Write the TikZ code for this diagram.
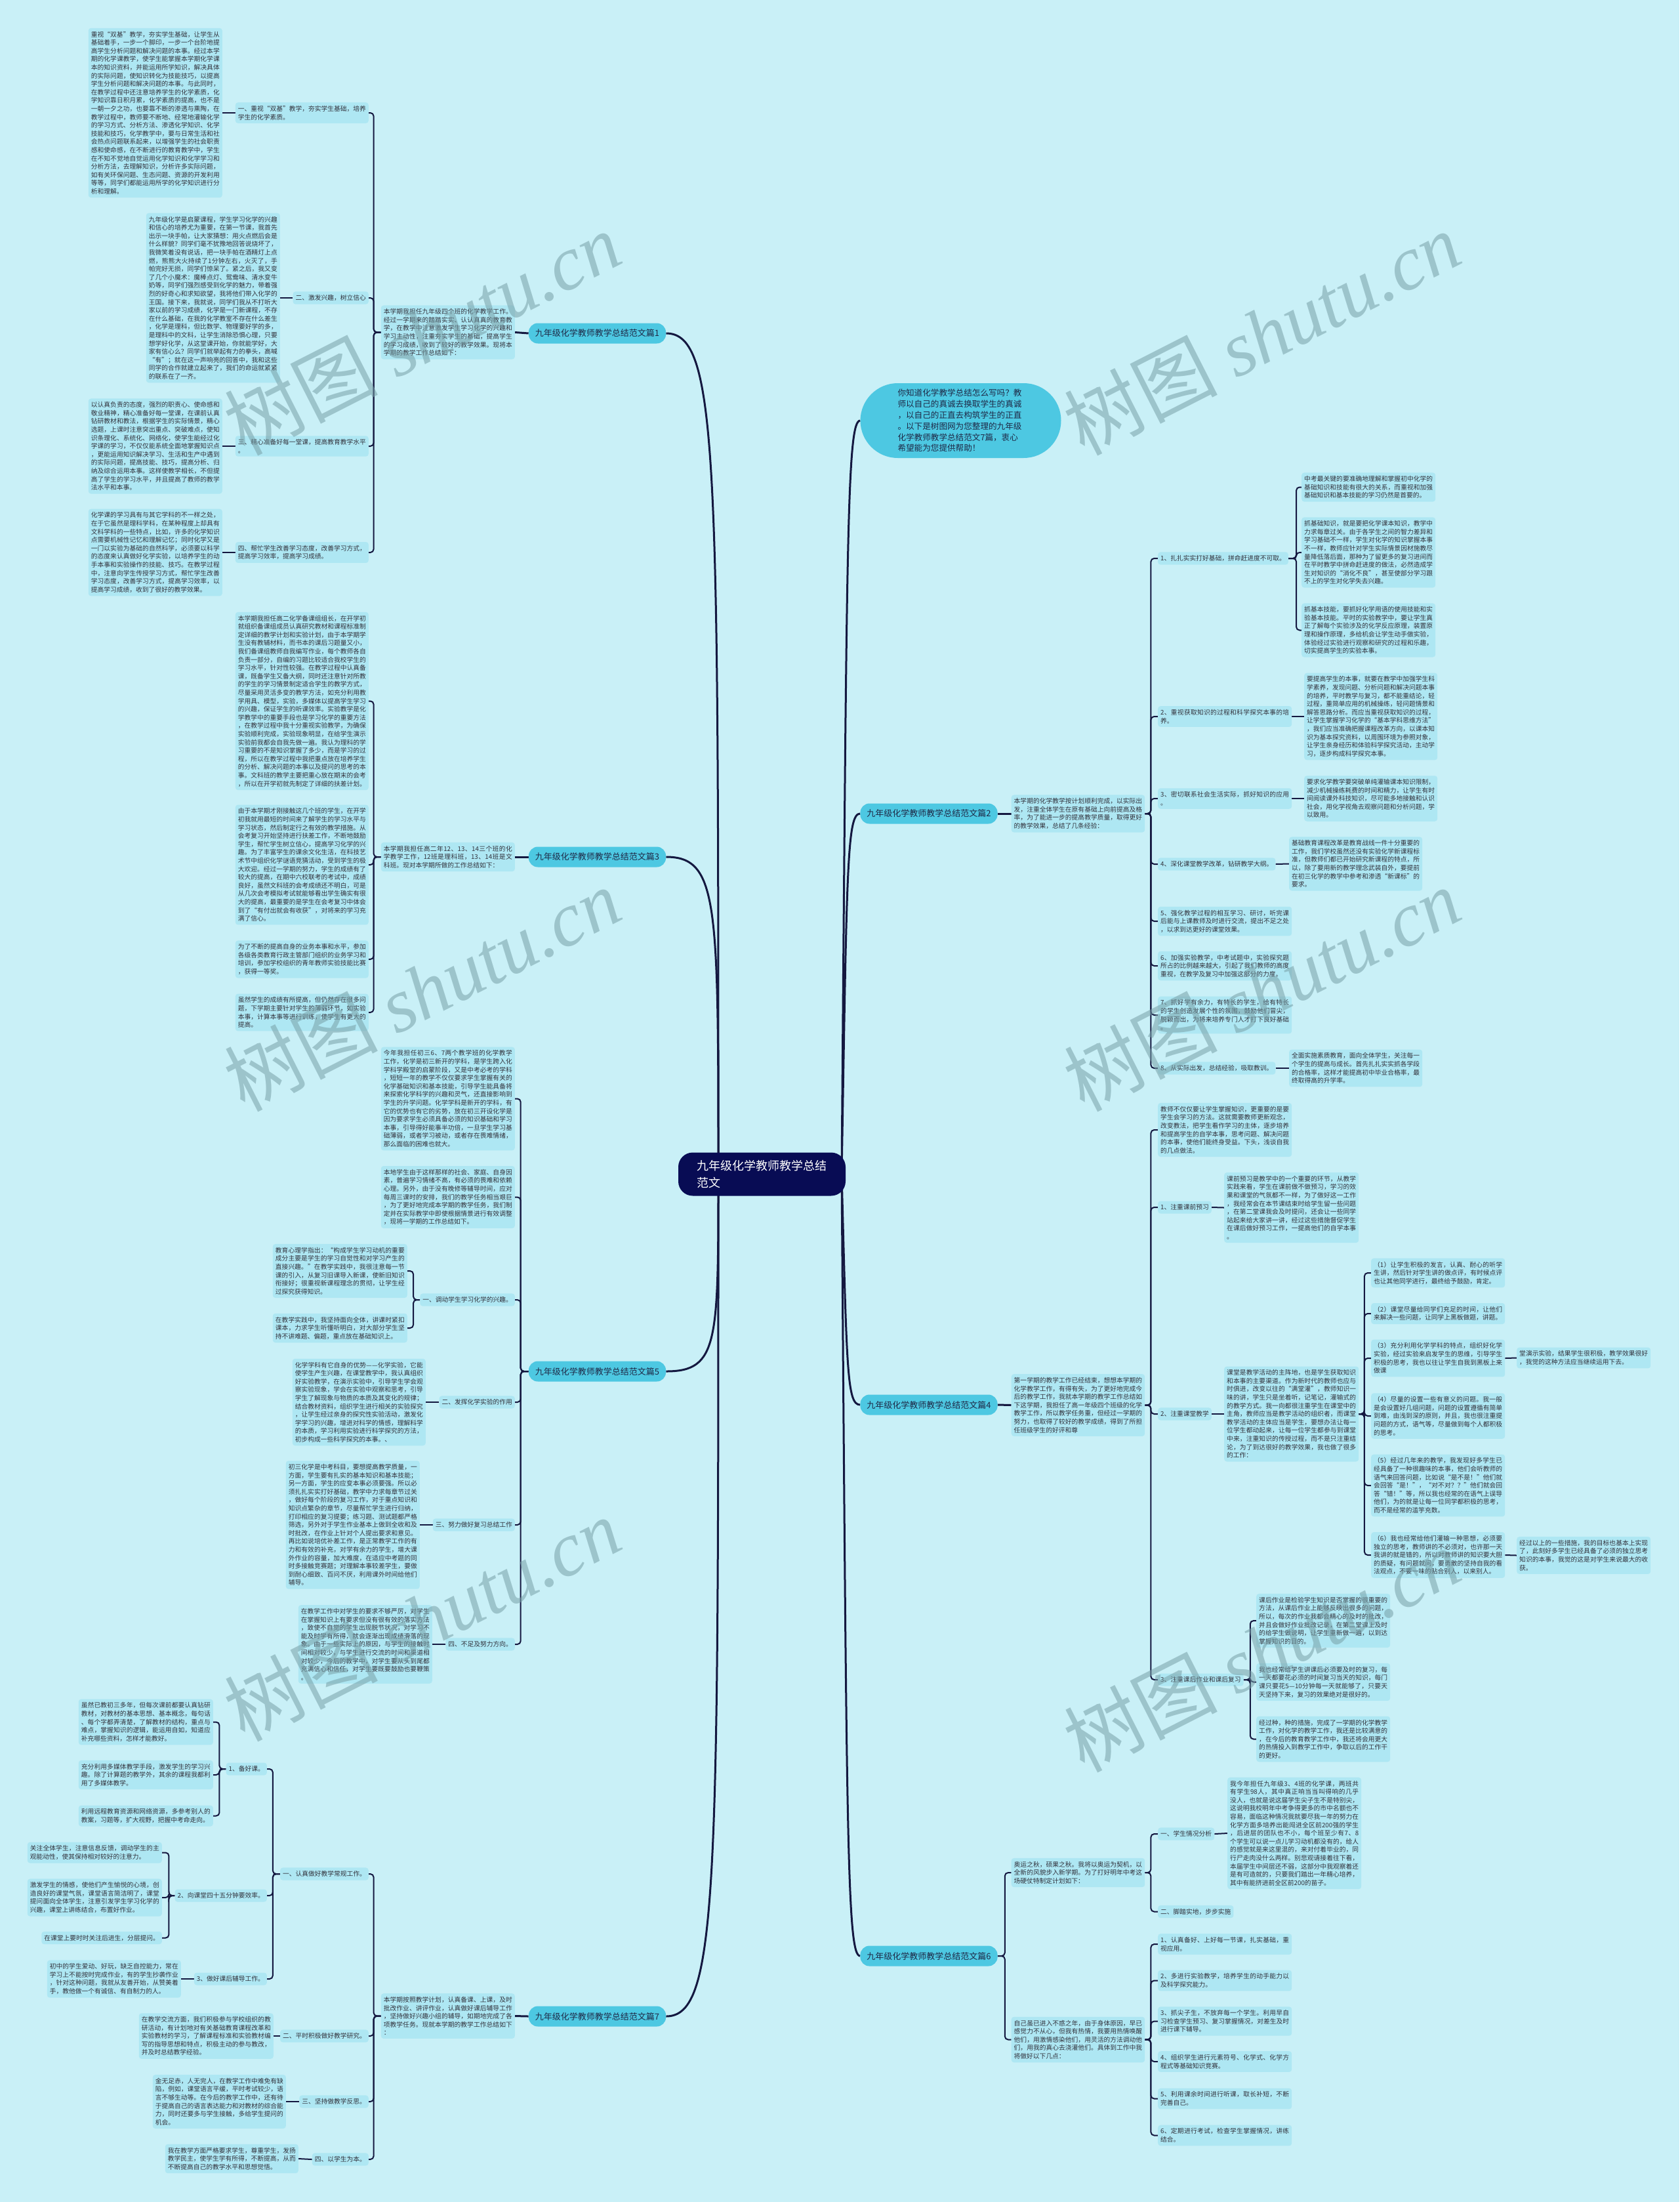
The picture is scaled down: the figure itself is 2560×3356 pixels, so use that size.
\documentclass[tikz,border=0pt]{standalone}
\usepackage{fontspec}
\setmainfont{Noto Sans CJK SC}
\newfontfamily\wmlat{Liberation Serif}
% character-level line breaking (break between any CJK characters)
\newcount\cjkc
\cjkc="4E00
\loop \XeTeXcharclass\cjkc=1 \advance\cjkc by 1 \ifnum\cjkc<"A000 \repeat
\XeTeXcharclass"2014=1
\XeTeXcharclass"FF08=2 \XeTeXcharclass"201C=2 \XeTeXcharclass"2018=2
\XeTeXcharclass"FF0C=3 \XeTeXcharclass"3002=3 \XeTeXcharclass"3001=3
\XeTeXcharclass"FF1B=3 \XeTeXcharclass"FF1A=3 \XeTeXcharclass"FF1F=3
\XeTeXcharclass"FF01=3 \XeTeXcharclass"FF09=3 \XeTeXcharclass"201D=3
\XeTeXcharclass"2019=3
\def\cjkg{\hskip0pt plus 0.3pt\relax}
\XeTeXinterchartoks 1 1 = {\cjkg}
\XeTeXinterchartoks 1 2 = {\cjkg}
\XeTeXinterchartoks 1 3 = {\cjkg}
\XeTeXinterchartoks 3 1 = {\cjkg}
\XeTeXinterchartoks 3 2 = {\cjkg}
\XeTeXinterchartoks 3 3 = {\cjkg}
\XeTeXinterchartoks 0 1 = {\cjkg}
\XeTeXinterchartoks 1 0 = {\cjkg}
\XeTeXinterchartoks 3 0 = {\cjkg}
\XeTeXinterchartoks 0 3 = {\cjkg}
\XeTeXinterchartoks 0 2 = {\cjkg}
\XeTeXinterchartokenstate=1
\definecolor{bgc}{RGB}{201,240,247}
\definecolor{leafc}{RGB}{174,231,243}
\definecolor{brc}{RGB}{77,200,226}
\definecolor{cenc}{RGB}{8,12,84}
\definecolor{linec}{RGB}{20,24,64}
\definecolor{txt}{RGB}{50,50,60}
\definecolor{brtxt}{RGB}{30,40,70}
\definecolor{wmc}{RGB}{120,160,168}
\pgfdeclarelayer{bg}
\pgfsetlayers{bg,main}
\tikzset{
 leaf/.style={rectangle, rounded corners=4pt, fill=leafc, inner xsep=4pt, inner ysep=5pt, align=justify, text=txt, font=\fontsize{9.75pt}{12.6pt}\selectfont},
 brn/.style={rectangle, rounded corners=14pt, fill=brc, minimum height=31pt, inner xsep=10pt, text=brtxt, font=\fontsize{13pt}{15pt}\selectfont},
 conn/.style={draw=linec, line width=2pt, rounded corners=5pt},
 mainc/.style={draw=linec, line width=3pt},
 wm/.style={text=wmc, text opacity=0.55, font=\fontsize{117pt}{117pt}\selectfont, inner sep=0pt},
}
\begin{document}
\begin{tikzpicture}[x=1pt,y=-1pt]
\useasboundingbox (0,0) rectangle (2560,3356);
\begin{pgfonlayer}{bg}\fill[bgc] (0,0) rectangle (2560,3356);\end{pgfonlayer}

% center
\node[rectangle, rounded corners=22pt, fill=cenc, text=white, align=left, minimum width=255pt, minimum height=66pt, font=\fontsize{18pt}{26pt}\selectfont] (C) at (1161.5,1789.5) {九年级化学教师教学总结\\范文};

% intro bubble
\node[rectangle, rounded corners=57pt, fill=brc, text=brtxt, align=left, text width=192pt, inner xsep=57pt, inner ysep=6pt, minimum height=114pt, font=\fontsize{12.6pt}{16.8pt}\selectfont] (Q) at (1464.5,641) {你知道化学教学总结怎么写吗？教\\师以自己的真诚去换取学生的真诚\\，以自己的正直去构筑学生的正直\\。以下是树图网为您整理的九年级\\化学教师教学总结范文7篇，衷心\\希望能为您提供帮助！};

%================ 篇1
\node[brn] (B1) at (910.5,508) {九年级化学教师教学总结范文篇1};
\node[leaf, text width=196pt, anchor=east] (I1) at (785,506.5) {本学期我担任九年级四个班的化学教学工作。经过一学期来的踏踏实实、认认真真的教育教学，在教学中注意激发学生学习化学的兴趣和学习主动性，注重夯实学生的基础，提高学生的学习成绩，收到了较好的教学效果。现将本学期的教学工作总结如下：};
\node[leaf, text width=195pt, anchor=east] (S1a) at (562,172) {一、重视“双基”教学，夯实学生基础，培养学生的化学素质。};
\node[leaf, anchor=east] (S1b) at (562,454) {二、激发兴趣，树立信心};
\node[leaf, text width=195pt, anchor=east] (S1c) at (562,680) {三、精心准备好每一堂课，提高教育教学水平。};
\node[leaf, text width=195pt, anchor=east] (S1d) at (562,842) {四、帮忙学生改善学习态度，改善学习方式，提高学习效率，提高学习成绩。};
\node[leaf, text width=196pt, anchor=east] (L1a) at (339,172) {重视“双基”教学，夯实学生基础，让学生从基础着手，一步一个脚印，一步一个台阶地提高学生分析问题和解决问题的本事。经过本学期的化学课教学，使学生能掌握本学期化学课本的知识资料，并能运用所学知识，解决具体的实际问题，使知识转化为技能技巧，以提高学生分析问题和解决问题的本事。与此同时，在教学过程中还注意培养学生的化学素质，化学知识靠日积月累，化学素质的提高，也不是一朝一夕之功，也要靠不断的渗透与熏陶，在教学过程中，教师要不断地、经常地灌输化学的学习方式、分析方法、渗透化学知识、化学技能和技巧，化学教学中，要与日常生活和社会热点问题联系起来，以增强学生的社会职责感和使命感，在不断进行的教育教学中，学生在不知不觉地自觉运用化学知识和化学学习和分析方法，去理解知识，分析许多实际问题，如有关环保问题、生态问题、资源的开发利用等等，同学们都能运用所学的化学知识进行分析和理解。};
\node[leaf, text width=196pt, anchor=east] (L1b) at (427,454) {九年级化学是启蒙课程，学生学习化学的兴趣和信心的培养尤为重要，在第一节课，我首先出示一块手帕，让大家猜想：用火点燃后会是什么样貌？同学们毫不犹豫地回答说烧坏了，我微笑着没有说话，把一块手帕在酒精灯上点燃，熊熊大火持续了1分钟左右，火灭了，手帕完好无损，同学们惊呆了。紧之后，我又变了几个小魔术：魔棒点灯、鸳鸯味、清水变牛奶等，同学们强烈感受到化学的魅力，带着强烈的好奇心和求知欲望，我将他们带入化学的王国。接下来，我就说，同学们我从不打听大家以前的学习成绩，化学是一门新课程，不存在什么基础，在我的化学教室不存在什么差生，化学是理科，但比数学、物理要好学的多，是理科中的文科，让学生消除恐惧心理，只要想学好化学，从这堂课开始，你就能学好，大家有信心么？同学们就举起有力的拳头，高喊“有”；就在这一声响亮的回答中，我和这些同学的合作就建立起来了，我们的命运就紧紧的联系在了一齐。};
\node[leaf, text width=196pt, anchor=east] (L1c) at (339,680) {以认真负责的态度，强烈的职责心、使命感和敬业精神，精心准备好每一堂课，在课前认真钻研教材和教法，根据学生的实际情景，精心选题，上课时注意突出重点、突破难点，使知识条理化、系统化、网络化，使学生能经过化学课的学习，不仅仅能系统全面地掌握知识点，更能运用知识解决学习、生活和生产中遇到的实际问题，提高技能、技巧，提高分析、归纳及综合运用本事。这样使教学相长，不但提高了学生的学习水平，并且提高了教师的教学法水平和本事。};
\node[leaf, text width=196pt, anchor=east] (L1d) at (339,842) {化学课的学习具有与其它学科的不一样之处，在于它虽然是理科学科，在某种程度上却具有文科学科的一些特点，比如，许多的化学知识点需要机械性记忆和理解记忆；同时化学又是一门以实验为基础的自然科学，必须要以科学的态度来认真做好化学实验，以培养学生的动手本事和实验操作的技能、技巧。在教学过程中，注意向学生传授学习方式，帮忙学生改善学习态度，改善学习方式，提高学习效率，以提高学习成绩，收到了很好的教学效果。};

%================ 篇3
\node[brn] (B3) at (910.5,1306) {九年级化学教师教学总结范文篇3};
\node[leaf, text width=196pt, anchor=east] (I3) at (785,1306) {本学期我担任高二年12、13、14三个班的化学教学工作，12班是理科班，13、14班是文科班。现对本学期所做的工作总结如下：};
\node[leaf, text width=195pt, anchor=east] (L3a) at (562,1068.5) {本学期我担任高二化学备课组组长，在开学初就组织备课组成员认真研究教材和课程标准制定详细的教学计划和实验计划，由于本学期学生没有教辅材料，而书本的课后习题量又小，我们备课组教师自我编写作业，每个教师各自负责一部分，自编的习题比较适合我校学生的学习水平，针对性较强。在教学过程中认真备课，既备学生又备大纲，同时还注意针对所教的学生的学习情景制定适合学生的教学方式，尽量采用灵活多变的教学方法，如充分利用教学用具、模型，实验，多媒体以提高学生学习的兴趣，保证学生的听课效率。实验教学是化学教学中的重要手段也是学习化学的重要方法，在教学过程中我十分重视实验教学，为确保实验顺利完成，实验现象明显，在给学生演示实验前我都会自我先做一遍。我认为理科的学习重要的不是知识掌握了多少，而是学习的过程，所以在教学过程中我把重点放在培养学生的分析、解决问题的本事以及提问的思考的本事。文科班的教学主要把重心放在期末的会考，所以在开学初就先制定了详细的扶差计划。};
\node[leaf, text width=195pt, anchor=east] (L3b) at (562,1318) {由于本学期才刚接触这几个班的学生，在开学初我就用最短的时间来了解学生的学习水平与学习状态，然后制定行之有效的教学措施。从会考复习开始坚持进行扶差工作，不断地鼓励学生，帮忙学生树立信心，提高学习化学的兴趣。为了丰富学生的课余文化生活，在科技艺术节中组织化学谜语竞猜活动，受到学生的极大欢迎。经过一学期的努力，学生的成绩有了较大的提高，在期中六校联考的考试中，成绩良好，虽然文科班的会考成绩还不明白，可是从几次会考模拟考试就能够看出学生确实有很大的提高，最重要的是学生在会考复习中体会到了“有付出就会有收获”，对将来的学习充满了信心。};
\node[leaf, text width=195pt, anchor=east] (L3c) at (562,1462) {为了不断的提高自身的业务本事和水平，参加各级各类教育行政主管部门组织的业务学习和培训，参加学校组织的青年教师实验技能比赛，获得一等奖。};
\node[leaf, text width=195pt, anchor=east] (L3d) at (562,1543) {虽然学生的成绩有所提高，但仍然存在很多问题，下学期主要针对学生的薄弱环节，如实验本事，计算本事等进行训练，使学生有更大的提高。};

%================ 篇5
\node[brn] (B5) at (910.5,2090) {九年级化学教师教学总结范文篇5};
\node[leaf, text width=196pt, anchor=east] (T5a) at (785,1674.5) {今年我担任初三6、7两个教学班的化学教学工作，化学是初三新开的学科，是学生跨入化学科学殿堂的启蒙阶段，又是中考必考的学科，短短一年的教学不仅仅要求学生掌握有关的化学基础知识和基本技能，引导学生能具备将来探索化学科学的兴趣和灵气，还直接影响到学生的升学问题。化学学科是新开的学科，有它的优势也有它的劣势，放在初三开设化学是因为要求学生必须具备必须的知识基础和学习本事，引导得好能事半功倍，一旦学生学习基础薄弱，或者学习被动，或者存在畏难情绪，那么面临的困难也就大。};
\node[leaf, text width=196pt, anchor=east] (T5b) at (785,1824.5) {本地学生由于这样那样的社会、家庭、自身因素，普遍学习情绪不高，有必须的畏难和依赖心理。另外，由于没有晚修等辅导时间，应对每周三课时的安排，我们的教学任务相当艰巨，为了更好地完成本学期的教学任务，我们制定并在实际教学中即使根据情景进行有效调整，现将一学期的工作总结如下。};
\node[leaf, anchor=east] (S5a) at (785,1981) {一、调动学生学习化学的兴趣。};
\node[leaf, anchor=east] (S5b) at (785,2137) {二、发挥化学实验的作用};
\node[leaf, anchor=east] (S5c) at (785,2324) {三、努力做好复习总结工作};
\node[leaf, anchor=east] (S5d) at (785,2506) {四、不足及努力方向。};
\node[leaf, text width=197pt, anchor=east] (L5a1) at (621,1937) {教育心理学指出：“构成学生学习动机的重要成分主要是学生的学习自觉性和对学习产生的直接兴趣。”在教学实践中，我很注意每一节课的引入，从复习旧课导入新课，使新旧知识衔接好；很重视新课程理念的贯彻，让学生经过探究获得知识。};
\node[leaf, text width=197pt, anchor=east] (L5a2) at (621,2024) {在教学实践中，我坚持面向全体，讲课时紧扣课本，力求学生听懂听明白，对大部分学生坚持不讲难题、偏题，重点放在基础知识上。};
\node[leaf, text width=195pt, anchor=east] (L5b) at (649,2137) {化学学科有它自身的优势——化学实验，它能使学生产生兴趣，在课堂教学中，我认真组织好实验教学，在演示实验中，引导学生学会观察实验现象，学会在实验中观察和思考，引导学生了解现象与物质的本质及其变化的规律；结合教材资料，组织学生进行相关的实验探究，让学生经过亲身的探究性实验活动，激发化学学习的兴趣，增进对科学的情感，理解科学的本质，学习利用实验进行科学探究的方法，初步构成一些科学探究的本事。、};
\node[leaf, text width=196pt, anchor=east] (L5c) at (640,2324) {初三化学是中考科目，要想提高教学质量，一方面，学生要有扎实的基本知识和基本技能；另一方面，学生的应变本事必须要强。所以必须扎扎实实打好基础，教学中力求每章节过关，做好每个阶段的复习工作，对于重点知识和知识点繁杂的章节，尽量帮忙学生进行归纳，打印相应的复习提要；练习题、测试题都严格筛选，另外对于学生作业基本上做到全收和及时批改，在作业上针对个人提出要求和意见。再比如说培优补差工作，是正常教学工作的有力和有效的补充，对学有余力的学生，增大课外作业的容量，加大难度，在适应中考题的同时多接触竞赛题；对理解本事较差学生，要做到耐心细致、百问不厌，利用课外时间给他们辅导。};
\node[leaf, text width=196pt, anchor=east] (L5d) at (659,2506) {在教学工作中对学生的要求不够严厉，对学生在掌握知识上有要求但没有很有效的落实方法，致使不自觉的学生出现脱节状况，对学习不能及时学有所得，就会逐渐出现成绩滑落的现象。由于一些实际上的原因，与学生的接触时间相对较少，与学生进行交流的时间和渠道相对较少，今后的教学中，对学生要从头到尾都充满信心和信任，对学生要既要鼓励也要鞭策。};

%================ 篇7
\node[brn] (B7) at (910.5,3073) {九年级化学教师教学总结范文篇7};
\node[leaf, text width=196pt, anchor=east] (I7) at (785,3072.5) {本学期按照教学计划，认真备课、上课，及时批改作业、讲评作业，认真做好课后辅导工作，坚持做好兴趣小组的辅导，如期地完成了各项教学任务。现就本学期的教学工作总结如下：};
\node[leaf, anchor=east] (S7a) at (562,2856) {一、认真做好教学常规工作。};
\node[leaf, anchor=east] (S7b) at (562,3103) {二、平时积极做好教学研究。};
\node[leaf, anchor=east] (S7c) at (562,3203) {三、坚持做教学反思。};
\node[leaf, anchor=east] (S7d) at (562,3291) {四、以学生为本。};
\node[leaf, anchor=east] (S7a1) at (407,2696) {1、备好课。};
\node[leaf, anchor=east] (S7a2) at (407,2889) {2、向课堂四十五分钟要效率。};
\node[leaf, anchor=east] (S7a3) at (407,3016) {3、做好课后辅导工作。};
\node[leaf, text width=197pt, anchor=east] (L7a) at (325,2624.5) {虽然已教初三多年，但每次课前都要认真钻研教材，对教材的基本思想、基本概念，每句话、每个字都弄清楚，了解教材的结构，重点与难点，掌握知识的逻辑，能运用自如，知道应补充哪些资料，怎样才能教好。};
\node[leaf, text width=197pt, anchor=east] (L7b) at (325,2705) {充分利用多媒体教学手段，激发学生的学习兴趣。除了计算题的教学外，其余的课程我都利用了多媒体教学。};
\node[leaf, text width=197pt, anchor=east] (L7c) at (325,2767.5) {利用远程教育资源和网络资源，多参考别人的教案，习题等，扩大视野，把握中考命走向。};
\node[leaf, text width=197pt, anchor=east] (L7d) at (247,2823.5) {关注全体学生，注意信息反馈，调动学生的主观能动性，使其保持相对较好的注意力。};
\node[leaf, text width=197pt, anchor=east] (L7e) at (247,2892) {激发学生的情感，使他们产生愉悦的心境，创造良好的课堂气氛，课堂语言简洁明了，课堂提问面向全体学生，注意引发学生学习化学的兴趣，课堂上讲练结合，布置好作业。};
\node[leaf, anchor=east] (L7f) at (247,2953.5) {在课堂上要时时关注后进生，分层提问。};
\node[leaf, text width=196pt, anchor=east] (L7g) at (276,3016) {初中的学生爱动、好玩，缺乏自控能力，常在学习上不能按时完成作业，有的学生抄袭作业，针对这种问题，我就从友善开始，从赞美着手，教他做一个有诚信、有自制力的人。};
\node[leaf, text width=197pt, anchor=east] (L7h) at (417,3103) {在教学交流方面，我们积极参与学校组织的教研活动，有计划地对有关基础教育课程改革和实验教材的学习，了解课程标准和实验教材编写的指导思想和特点，积极主动的参与教改，并及时总结教学经验。};
\node[leaf, text width=195pt, anchor=east] (L7i) at (436,3203) {金无足赤，人无完人，在教学工作中难免有缺陷，例如，课堂语言平缓，平时考试较少，语言不够生动等。在今后的教学工作中，还有待于提高自己的语言表达能力和对教材的综合能力，同时还要多与学生接触，多给学生提问的机会。};
\node[leaf, text width=195pt, anchor=east] (L7j) at (455,3290) {我在教学方面严格要求学生，尊重学生，发扬教学民主，使学生学有所得，不断提高，从而不断提高自己的教学水平和思想觉悟。};

%================ 篇2
\node[brn] (B2) at (1416,1240) {九年级化学教师教学总结范文篇2};
\node[leaf, text width=195.5pt, anchor=west] (I2) at (1541.5,1240) {本学期的化学教学按计划顺利完成，以实际出发，注重全体学生在原有基础上向前提高及格率，为了能进一步的提高教学质量，取得更好的教学效果，总结了几条经验：};
\node[leaf, anchor=west] (S21) at (1765,851) {1、扎扎实实打好基础，拼命赶进度不可取。};
\node[leaf, text width=196pt, anchor=west] (S22) at (1765,1092) {2、重视获取知识的过程和科学探究本事的培养。};
\node[leaf, text width=196pt, anchor=west] (S23) at (1765,1217) {3、密切联系社会生活实际，抓好知识的应用。};
\node[leaf, anchor=west] (S24) at (1765,1317) {4、深化课堂教学改革，钻研教学大纲。};
\node[leaf, text width=196pt, anchor=west] (S25) at (1765,1404) {5、强化教学过程的相互学习、研讨，听完课后能与上课教师及时进行交流，提出不足之处，以求到达更好的课堂效果。};
\node[leaf, text width=196pt, anchor=west] (S26) at (1765,1472) {6、加强实验教学，中考试题中，实验探究题所占的比例越来越大，引起了我们教师的高度重视，在教学及复习中加强这部分的力度。};
\node[leaf, text width=196pt, anchor=west] (S27) at (1765,1547) {7、抓好学有余力，有特长的学生，给有特长的学生创造发展个性的氛围，鼓励他们冒尖，脱颖而出，为将来培养专门人才打下良好基础。};
\node[leaf, anchor=west] (S28) at (1765,1628) {8、从实际出发，总结经验，吸取教训。};
\node[leaf, text width=196pt, anchor=west] (L21a) at (1984,742.5) {中考最关键的要准确地理解和掌握初中化学的基础知识和技能有很大的关系，而重视和加强基础知识和基本技能的学习仍然是首要的。};
\node[leaf, text width=196pt, anchor=west] (L21b) at (1984,842) {抓基础知识，就是要把化学课本知识，教学中力求每章过关。由于各学生之间的智力差异和学习基础不一样，学生对化学的知识掌握本事不一样，教师应针对学生实际情景因材施教尽量降低落后面，那种为了留更多的复习进间而在平时教学中拼命赶进度的做法，必然造成学生对知识的“消化不良”，甚至使部分学习跟不上的学生对化学失去兴趣。};
\node[leaf, text width=196pt, anchor=west] (L21c) at (1984,960.5) {抓基本技能，要抓好化学用语的使用技能和实验基本技能。平时的实验教学中，要让学生真正了解每个实验涉及的化学反应原理，装置原理和操作原理，多给机会让学生动手做实验，体验经过实验进行观察和研究的过程和乐趣，切实提高学生的实验本事。};
\node[leaf, text width=195pt, anchor=west] (L22) at (1988,1092) {要提高学生的本事，就要在教学中加强学生科学素养，发现问题、分析问题和解决问题本事的培养，平时教学与复习，都不能重结论，轻过程，重简单应用的机械操练，轻问题情景和解答思路分析。而应当重视获取知识的过程，让学生掌握学习化学的“基本学科思维方法”，我们应当准确把握课程改革方向，以课本知识为基本探究资料，以周围环境为参照对象，让学生亲身经历和体验科学探究活动，主动学习，逐步构成科学探究本事。};
\node[leaf, text width=195pt, anchor=west] (L23) at (1988,1217) {要求化学教学要突破单纯灌输课本知识限制，减少机械操练耗费的时间和精力，让学生有时间阅读课外科技知识，尽可能多地接触和认识社会，用化学视角去观察问题和分析问题，学以致用。};
\node[leaf, text width=195pt, anchor=west] (L24) at (1965,1316.5) {基础教育课程改革是教育战线一件十分重要的工作，我们学校虽然还没有实验化学新课程标准，但教师们都已开始研究新课程的特点，所以，除了要用新的教学理念武装自外，要提前在初三化学的教学中参考和渗透“新课标”的要求。};
\node[leaf, text width=195pt, anchor=west] (L28) at (1965,1628) {全面实施素质教育，面向全体学生，关注每一个学生的提高与成长。首先扎扎实实抓各学段的合格率，这样才能提高初中毕业合格率，最终取得高的升学率。};

%================ 篇4
\node[brn] (B4) at (1416,2141) {九年级化学教师教学总结范文篇4};
\node[leaf, text width=195.5pt, anchor=west] (I4) at (1541.5,2141.5) {第一学期的教学工作已经结束，想想本学期的化学教学工作，有得有失，为了更好地完成今后的教学工作，我就本学期的教学工作总结如下这学期，我担任了高一年级四个班级的化学教学工作，所以教学任务重，但经过一学期的努力，也取得了较好的教学成绩，得到了所担任班级学生的好评和尊};
\node[leaf, text width=196pt, anchor=west] (T4a) at (1765,1722) {教师不仅仅要让学生掌握知识，更重要的是要学生会学习的方法。这就需要教师更新观念，改变教法，把学生看作学习的主体，逐步培养和提高学生的自学本事，思考问题、解决问题的本事，使他们能终身受益。下头，浅谈自我的几点做法。};
\node[leaf, anchor=west] (S41) at (1765,1840) {1、注重课前预习};
\node[leaf, anchor=west] (S42) at (1765,2155) {2、注重课堂教学};
\node[leaf, anchor=west] (S43) at (1765,2560) {3、注重课后作业和课后复习};
\node[leaf, text width=197pt, anchor=west] (L41) at (1866,1840.5) {课前预习是教学中的一个重要的环节，从教学实践来看，学生在课前做不做预习，学习的效果和课堂的气氛都不一样，为了做好这一工作，我经常会在本节课结束时给学生留一些问题，在第二堂课我会及时提问，还会让一些同学站起来给大家讲一讲，经过这些措施督促学生在课后做好预习工作，一提高他们的自学本事。};
\node[leaf, text width=197pt, anchor=west] (T42) at (1866,2155) {课堂是教学活动的主阵地，也是学生获取知识和本事的主要渠道。作为新时代的教师也应与时俱进，改变以往的“满堂灌”，教师知识一味的讲，学生只是坐着听，记笔记，灌输式的的教学方式。我一向都很注重学生在课堂中的主角，教师应当是教学活动的组织者，而课堂教学活动的主体应当是学生，要想办法让每一位学生都动起来，让每一位学生都参与到课堂中来，注重知识的传授过程，而不是只注重结论，为了到达很好的教学效果，我也做了很多的工作：};
\node[leaf, text width=196pt, anchor=west] (P1) at (2090,1940) {（1）让学生积极的发言，认真、耐心的听学生讲，然后针对学生讲的做点评，有时候点评也让其他同学进行，最终给予鼓励，肯定。};
\node[leaf, text width=196pt, anchor=west] (P2) at (2090,2002) {（2）课堂尽量给同学们充足的时间，让他们来解决一些问题，让同学上黑板做题，讲题。};
\node[leaf, text width=196pt, anchor=west] (P3) at (2090,2070) {（3）充分利用化学学科的特点，组织好化学实验，经过实验来启发学生的思维，引导学生积极的思考，我也以往让学生自我到黑板上来做课};
\node[leaf, text width=196pt, anchor=west] (P4) at (2090,2158) {（4）尽量的设置一些有意义的问题。我一般是会设置好几组问题，问题的设置遵循有简单到难，由浅到深的原则，并且，我也很注重提问题的方式，语气等，尽量做到每个人都积极的思考。};
\node[leaf, text width=196pt, anchor=west] (P5) at (2090,2264) {（5）经过几年来的教学，我发现好多学生已经具备了一种很趣味的本事，他们会听教师的语气来回答问题，比如说“是不是！”他们就会回答“是！”，“对不对？？”他们就会回答“错！”等，所以我也经常的在语气上误导他们，为的就是让每一位同学都积极的思考，而不是经常的滥竽充数。};
\node[leaf, text width=196pt, anchor=west] (P6) at (2090,2370) {（6）我也经常给他们灌输一种思想，必须要独立的思考，教师讲的不必须对，也许那一天我讲的就是错的，所以对教师讲的知识要大胆的质疑，有问题就问，要勇敢的坚持自我的看法观点，不要一味的贴合别人，以来别人。};
\node[leaf, text width=196pt, anchor=west] (P3c) at (2312,2069.5) {堂演示实验，结果学生很积极，教学效果很好，我觉的这种方法应当继续运用下去。};
\node[leaf, text width=196pt, anchor=west] (P6c) at (2312,2370.5) {经过以上的一些措施，我的目标也基本上实现了，此刻好多学生已经具备了必须的独立思考知识的本事，我觉的这是对学生来说最大的收获。};
\node[leaf, text width=196pt, anchor=west] (L43a) at (1915,2470) {课后作业是检验学生知识是否掌握的很重要的方法，从课后作业上能够反映出很多的问题，所以，每次的作业我都会精心的及时的批改，并且会做好作业批改记录，在第二堂课上及时的给学生做说明，让学生重新做一遍，以到达掌握知识的目的。};
\node[leaf, text width=196pt, anchor=west] (L43b) at (1915,2563.5) {我也经常给学生讲课后必须要及时的复习，每一天都要花必须的时间复习当天的知识，每门课只要花5—10分钟每一天就能够了，只要天天坚持下来，复习的效果绝对是很好的。};
\node[leaf, text width=196pt, anchor=west] (L43c) at (1915,2650.5) {经过种，种的措施，完成了一学期的化学教学工作，对化学的教学工作，我还是比较满意的，在今后的教育教学工作中，我还将会用更大的热情投入到教学工作中，争取以后的工作干的更好。};

%================ 篇6
\node[brn] (B6) at (1416,2981) {九年级化学教师教学总结范文篇6};
\node[leaf, text width=195.5pt, anchor=west] (T6a) at (1541.5,2854) {奥运之秋，硕果之秋。我将以奥运为契机，以全新的风貌步入新学期。为了打好明年中考这场硬仗特制定计划如下：};
\node[leaf, text width=195.5pt, anchor=west] (T6b) at (1541.5,3108.5) {自己虽已进入不惑之年，由于身体原因，早已感觉力不从心，但我有热情，我要用热情唤醒他们，用激情感染他们，用灵活的方法调动他们，用我的真心去浇灌他们。具体到工作中我将做好以下几点：};
\node[leaf, anchor=west] (S61) at (1765,2795) {一、学生情况分析};
\node[leaf, anchor=west] (S62) at (1765,2913.5) {二、脚踏实地，步步实施};
\node[leaf, text width=196pt, anchor=west] (L61) at (1871,2794) {我今年担任九年级3、4班的化学课，两班共有学生98人，其中真正响当当叫得响的几乎没人，也就是说这届学生尖子生不是特别尖，这说明我校明年中考争得更多的市中名额也不容易，面临这种情况我就要尽我一年的努力在化学方面多培养出能闯进全区前200强的学生，后进层的团队也不小，每个班至少有7、8个学生可以说一点儿学习动机都没有的，给人的感觉就是来这里混的，来对付着毕业的，同行尸走肉没什么两样。别悲观请接着往下看，本届学生中间层还不弱，这部分中我观察着还是有可造就的，只要我们踏出一年精心培养，其中有能挤进前全区前200的苗子。};
\node[leaf, text width=196pt, anchor=west] (R1) at (1765,2963) {1、认真备好、上好每一节课，扎实基础，重视应用。};
\node[leaf, text width=196pt, anchor=west] (R2) at (1765,3018.5) {2、多进行实验教学，培养学生的动手能力以及科学探究能力。};
\node[leaf, text width=196pt, anchor=west] (R3) at (1765,3080.5) {3、抓尖子生，不放弃每一个学生。利用早自习检查学生预习、复习掌握情况，对差生及时进行课下辅导。};
\node[leaf, text width=196pt, anchor=west] (R4) at (1765,3142) {4、组织学生进行元素符号、化学式、化学方程式等基础知识竞赛。};
\node[leaf, text width=196pt, anchor=west] (R5) at (1765,3198.5) {5、利用课余时间进行听课，取长补短，不断完善自己。};
\node[leaf, text width=196pt, anchor=west] (R6) at (1765,3254.5) {6、定期进行考试，检查学生掌握情况，讲练结合。};

%================ connectors
\begin{pgfonlayer}{bg}
% main curves, left
\draw[mainc] (B1.east) .. controls +(80,0) and (1095,700) .. (1095,1789.5);
\draw[mainc] (B3.east) .. controls +(80,0) and (1095,1378) .. (1095,1789.5);
\draw[mainc] (B5.east) .. controls +(80,0) and (1095,2045) .. (1095,1789.5);
\draw[mainc] (B7.east) .. controls +(80,0) and (1095,2880) .. (1095,1789.5);
% main curves, right
\draw[mainc] (1283,1789.5) .. controls (1291,813) and (1291,641) .. (Q.west);
\draw[mainc] (1283,1789.5) .. controls (1291,1322) and (1291,1240) .. (B2.west);
\draw[mainc] (1283,1789.5) .. controls (1291,2088) and (1291,2141) .. (B4.west);
\draw[mainc] (1283,1789.5) .. controls (1291,2802) and (1291,2981) .. (B6.west);
% 篇1
\draw[mainc] (B1.west) -- (I1.east);
\foreach \c in {S1a,S1b,S1c,S1d} \draw[conn] (I1.west) -- ++(-11,0) |- (\c.east);
\draw[conn] (S1a.west) -- (L1a.east);
\draw[conn] (S1b.west) -- (L1b.east);
\draw[conn] (S1c.west) -- (L1c.east);
\draw[conn] (S1d.west) -- (L1d.east);
% 篇3
\draw[mainc] (B3.west) -- (I3.east);
\foreach \c in {L3a,L3b,L3c,L3d} \draw[conn] (I3.west) -- ++(-11,0) |- (\c.east);
% 篇5
\foreach \c in {T5a,T5b,S5a,S5b,S5c,S5d} \draw[conn] (B5.west) -- ++(-12,0) |- (\c.east);
\foreach \c in {L5a1,L5a2} \draw[conn] (S5a.west) -- ++(-10,0) |- (\c.east);
\draw[conn] (S5b.west) -- (L5b.east);
\draw[conn] (S5c.west) -- (L5c.east);
\draw[conn] (S5d.west) -- (L5d.east);
% 篇7
\draw[mainc] (B7.west) -- (I7.east);
\foreach \c in {S7a,S7b,S7c,S7d} \draw[conn] (I7.west) -- ++(-11,0) |- (\c.east);
\foreach \c in {S7a1,S7a2,S7a3} \draw[conn] (S7a.west) -- ++(-11,0) |- (\c.east);
\foreach \c in {L7a,L7b,L7c} \draw[conn] (S7a1.west) -- ++(-10,0) |- (\c.east);
\foreach \c in {L7d,L7e,L7f} \draw[conn] (S7a2.west) -- ++(-9,0) |- (\c.east);
\draw[conn] (S7a3.west) -- (L7g.east);
\draw[conn] (S7b.west) -- (L7h.east);
\draw[conn] (S7c.west) -- (L7i.east);
\draw[conn] (S7d.west) -- (L7j.east);
% 篇2
\draw[mainc] (B2.east) -- (I2.west);
\foreach \c in {S21,S22,S23,S24,S25,S26,S27,S28} \draw[conn] (I2.east) -- ++(9,0) |- (\c.west);
\foreach \c in {L21a,L21b,L21c} \draw[conn] (S21.east) -- ++(12,0) |- (\c.west);
\draw[conn] (S22.east) -- (L22.west);
\draw[conn] (S23.east) -- (L23.west);
\draw[conn] (S24.east) -- (L24.west);
\draw[conn] (S28.east) -- (L28.west);
% 篇4
\draw[mainc] (B4.east) -- (I4.west);
\foreach \c in {T4a,S41,S42,S43} \draw[conn] (I4.east) -- ++(9,0) |- (\c.west);
\draw[conn] (S41.east) -- (L41.west);
\draw[conn] (S42.east) -- (T42.west);
\foreach \c in {P1,P2,P3,P4,P5,P6} \draw[conn] (T42.east) -- ++(8.5,0) |- (\c.west);
\draw[conn] (P3.east) -- (P3c.west);
\draw[conn] (P6.east) -- (P6c.west);
\foreach \c in {L43a,L43b,L43c} \draw[conn] (S43.east) -- ++(10,0) |- (\c.west);
% 篇6
\foreach \c in {T6a,T6b} \draw[conn] (B6.east) -- ++(11,0) |- (\c.west);
\foreach \c in {S61,S62} \draw[conn] (T6a.east) -- ++(9,0) |- (\c.west);
\draw[conn] (S61.east) -- (L61.west);
\foreach \c in {R1,R2,R3,R4,R5,R6} \draw[conn] (T6b.east) -- ++(9,0) |- (\c.west);
\end{pgfonlayer}

% watermarks
\foreach \p/\n in {{(372,696)}/W1,{(1652,696)}/W2,{(372,1696)}/W3,{(1652,1696)}/W4,{(372,2656)}/W5,{(1652,2703)}/W6}{
  \node[wm, rotate=27, anchor=base west] (\n) at \p {树图 {\wmlat\itshape shutu.cn}};
}
\end{tikzpicture}
\end{document}
